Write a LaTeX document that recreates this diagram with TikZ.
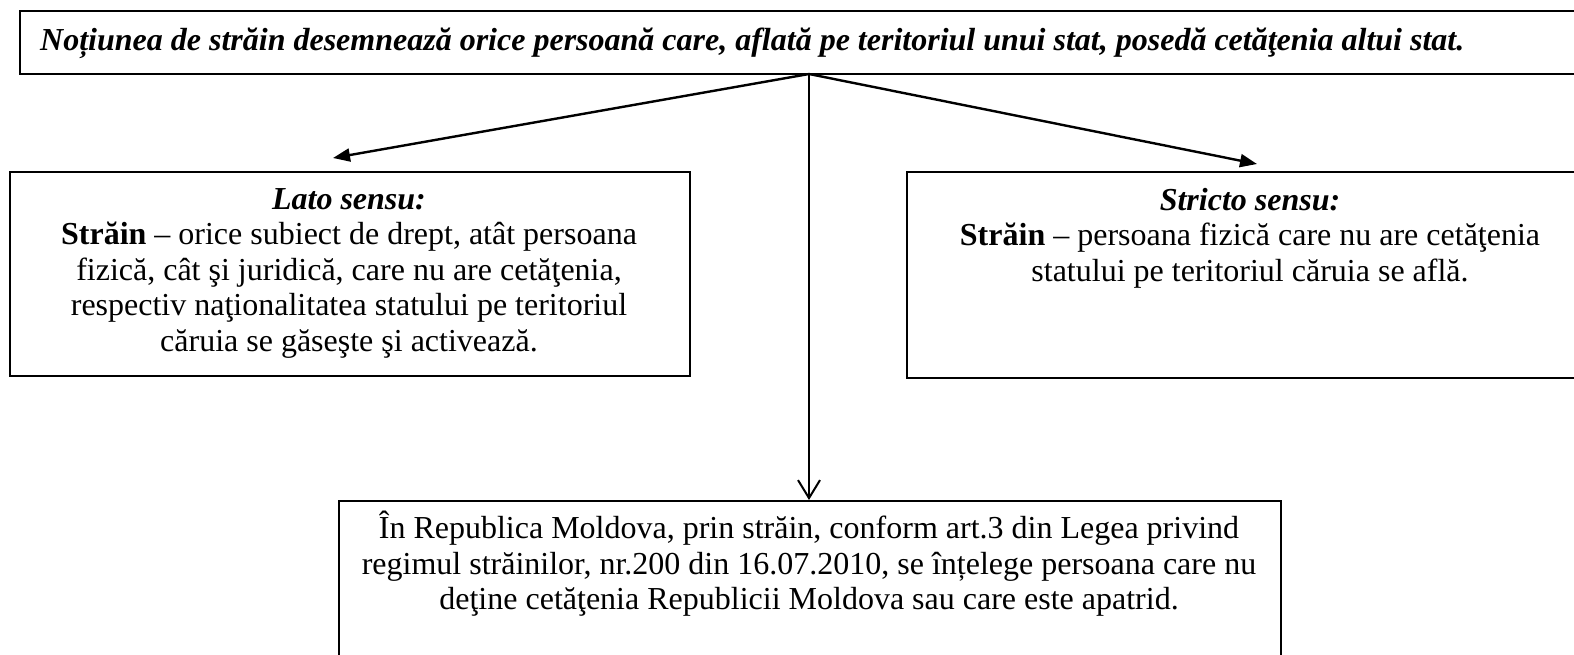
\documentclass[tikz,border=0pt]{standalone}
\usepackage{fontspec}
\setmainfont{Liberation Serif}
\usetikzlibrary{arrows.meta}
\begin{document}
\begin{tikzpicture}[x=1pt,y=-1pt,
  box/.style={draw, line width=2pt, inner sep=0pt, anchor=north west},
  txt/.style={align=center, inner sep=0pt, anchor=north, font=\fontsize{32}{35.5}\selectfont},
  conn/.style={line width=2.4pt, -{Triangle[length=17pt,width=13pt]}},
  down/.style={line width=2pt, -{Straight Barb[length=18pt,width=22pt,line width=2pt]}},
]
\useasboundingbox (0,0) rectangle (1574,654);
\clip (0,0) rectangle (1574,654);
% top box
\node[box, minimum width=1620, minimum height=63] (top) at (19,10) {};
\node[anchor=base west, inner sep=0pt, font=\fontsize{32}{36}\selectfont\bfseries\itshape] (toptxt) at (40,50)
  {Noțiunea de străin desemnează orice persoană care, aflată pe teritoriul unui stat, posedă cetăţenia altui stat.};
% left box
\node[box, minimum width=680, minimum height=204] (lbox) at (9,171) {};
\node[txt] (ltxt) at (349,188) {\textbf{\textit{Lato sensu:}}\\
  \textbf{Străin} – orice subiect de drept, atât persoana\\
  fizică, cât şi juridică, care nu are cetăţenia,\\
  respectiv naţionalitatea statului pe teritoriul\\
  căruia se găseşte şi activează.};
% right box
\node[box, minimum width=690, minimum height=206] (rbox) at (906,171) {};
\node[txt] (rtxt) at (1250,188) {\textbf{\textit{Stricto sensu:}}\\
  \textbf{Străin} – persoana fizică care nu are cetăţenia\\
  statului pe teritoriul căruia se află.};
% bottom box
\node[box, minimum width=942, minimum height=200] (bbox) at (338,500) {};
\node[txt] (btxt) at (809,511) {În Republica Moldova, prin străin, conform art.3 din Legea privind\\
  regimul străinilor, nr.200 din 16.07.2010, se înțelege persoana care nu\\
  deţine cetăţenia Republicii Moldova sau care este apatrid.};
% connectors
\coordinate (o) at (809,74);
\coordinate (lt) at (333,158);
\coordinate (rt) at (1257,164);
\draw[conn] (o) -- (lt);
\draw[conn] (o) -- (rt);
\draw[down] (o) -- (bbox.north -| o);
\end{tikzpicture}
\end{document}
